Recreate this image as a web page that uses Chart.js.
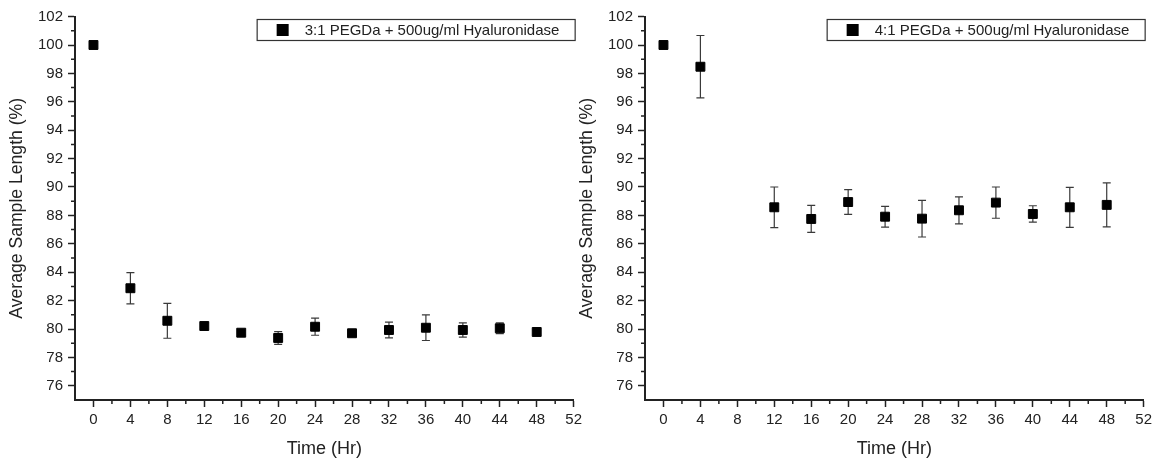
<!DOCTYPE html>
<html><head><meta charset="utf-8">
<script src="https://cdn.jsdelivr.net/npm/chart.js@4/dist/chart.umd.min.js"></script>
<style>
html,body{margin:0;padding:0;background:#fff;}
#wrap{position:relative;width:1161px;height:462px;overflow:hidden;background:#fff;}
canvas{position:absolute;top:0;}
#c1{left:0;}
#c2{left:570px;}
</style></head><body>
<div id="wrap"><canvas id="c1" width="586" height="462"></canvas><canvas id="c2" width="586" height="462"></canvas></div>
<script>
const timeHours = [0, 4, 8, 12, 16, 20, 24, 28, 32, 36, 40, 44, 48];
const xTickValues = [0, 4, 8, 12, 16, 20, 24, 28, 32, 36, 40, 44, 48, 52];
const yTickValues = [76, 78, 80, 82, 84, 86, 88, 90, 92, 94, 96, 98, 100, 102];
const minorXTicks = [2, 6, 10, 14, 18, 22, 26, 30, 34, 38, 42, 46, 50];
const minorYTicks = [77, 79, 81, 83, 85, 87, 89, 91, 93, 95, 97, 99, 101];

const labelLeft = '3:1 PEGDa + 500ug/ml Hyaluronidase';
const lengthLeft = [100, 82.87, 80.58, 80.21, 79.74, 79.37, 80.16, 79.70, 79.93, 80.09, 79.93, 80.05, 79.79];
const errorLeft = [0, 1.1, 1.23, 0.2, 0.15, 0.45, 0.6, 0.15, 0.56, 0.9, 0.5, 0.38, 0.15];

const labelRight = '4:1 PEGDa + 500ug/ml Hyaluronidase';
const lengthRight = [100, 98.47, null, 88.57, 87.75, 88.94, 87.91, 87.77, 88.36, 88.9, 88.1, 88.57, 88.74];
const errorRight = [0, 2.2, null, 1.43, 0.95, 0.87, 0.73, 1.29, 0.95, 1.1, 0.58, 1.41, 1.55];

const FONT = "'Liberation Sans', Arial, sans-serif";
const INK = '#222';

const errorBarPlugin = {
  id: 'errorBars',
  beforeDatasetsDraw(chart) {
    const ctx = chart.ctx;
    const xs = chart.scales.x, ys = chart.scales.y;
    chart.data.datasets.forEach(ds => {
      const errs = ds.errors || [];
      ds.data.forEach((p, i) => {
        const e = errs[i];
        if (p.y == null || e == null || e === 0) return;
        const x = xs.getPixelForValue(p.x);
        const yTop = ys.getPixelForValue(p.y + e);
        const yBot = ys.getPixelForValue(p.y - e);
        ctx.save();
        ctx.strokeStyle = '#3a3a3a';
        ctx.lineWidth = 1.2;
        ctx.beginPath();
        ctx.moveTo(x, yTop); ctx.lineTo(x, yBot);
        ctx.moveTo(x - 4, yTop); ctx.lineTo(x + 4, yTop);
        ctx.moveTo(x - 4, yBot); ctx.lineTo(x + 4, yBot);
        ctx.stroke();
        ctx.restore();
      });
    });
  }
};

const minorTickPlugin = {
  id: 'minorTicks',
  afterDraw(chart) {
    const ctx = chart.ctx;
    const xs = chart.scales.x, ys = chart.scales.y;
    const ca = chart.chartArea;
    ctx.save();
    ctx.strokeStyle = INK;
    ctx.lineWidth = 1.5;
    ctx.beginPath();
    minorXTicks.forEach(v => {
      const x = xs.getPixelForValue(v);
      ctx.moveTo(x, ca.bottom); ctx.lineTo(x, ca.bottom + 4);
    });
    minorYTicks.forEach(v => {
      const y = ys.getPixelForValue(v);
      ctx.moveTo(ca.left, y); ctx.lineTo(ca.left - 4, y);
    });
    ctx.stroke();
    ctx.restore();
  }
};

const boxLegendPlugin = {
  id: 'boxLegend',
  afterDraw(chart) {
    const ctx = chart.ctx;
    const ca = chart.chartArea;
    const ds = chart.data.datasets[0];
    const w = 318, h = 21;
    const right = ca.right + 1;
    const left = right - w;
    const top = 19;
    ctx.save();
    ctx.fillStyle = '#fff';
    ctx.fillRect(left, top, w, h);
    ctx.strokeStyle = '#333';
    ctx.lineWidth = 1.2;
    ctx.strokeRect(left + 0.5, top + 0.5, w, h);
    ctx.fillStyle = '#000';
    ctx.fillRect(left + 20, top + 5, 12, 12);
    ctx.fillStyle = INK;
    ctx.font = '15px ' + FONT;
    ctx.textBaseline = 'middle';
    ctx.textAlign = 'left';
    ctx.fillText(ds.label, left + 48, top + h / 2 + 1);
    ctx.restore();
  }
};

function makeChart(canvasId, label, values, errors) {
  const data = timeHours.map((t, i) => ({ x: t, y: values[i] }));
  return new Chart(document.getElementById(canvasId), {
    type: 'scatter',
    data: {
      datasets: [{
        label: label,
        data: data,
        errors: errors,
        showLine: false,
        pointStyle: 'rect',
        pointRadius: 6.3,
        pointHoverRadius: 6.3,
        backgroundColor: '#000',
        borderColor: '#000',
        borderWidth: 1
      }]
    },
    options: {
      responsive: false,
      animation: false,
      devicePixelRatio: 1,
      layout: { padding: { top: 16.6, right: 8, left: 0, bottom: 0 } },
      plugins: { legend: { display: false }, tooltip: { enabled: false } },
      scales: {
        x: {
          type: 'linear', min: -2, max: 52,
          afterBuildTicks: s => { s.ticks = xTickValues.map(v => ({ value: v })); },
          afterFit: s => { s.height = 62; },
          grid: { drawOnChartArea: false, drawTicks: true, tickLength: 7, tickWidth: 1.5, tickColor: INK },
          border: { display: true, color: INK, width: 2 },
          ticks: { color: INK, font: { family: FONT, size: 15 }, padding: 4, maxRotation: 0, autoSkip: false },
          title: { display: true, text: 'Time (Hr)', color: INK, font: { family: FONT, size: 18 }, padding: { top: 0, bottom: 2 } }
        },
        y: {
          type: 'linear', min: 75, max: 102,
          afterBuildTicks: s => { s.ticks = yTickValues.map(v => ({ value: v })); },
          afterFit: s => { s.width = 75; },
          grid: { drawOnChartArea: false, drawTicks: true, tickLength: 7, tickWidth: 1.5, tickColor: INK },
          border: { display: true, color: INK, width: 2 },
          ticks: { color: INK, font: { family: FONT, size: 15 }, padding: 5, autoSkip: false },
          title: { display: true, text: 'Average Sample Length (%)', color: INK, font: { family: FONT, size: 17.6 }, padding: { top: 7, bottom: 0 } }
        }
      }
    },
    plugins: [errorBarPlugin, minorTickPlugin, boxLegendPlugin]
  });
}

makeChart('c1', labelLeft, lengthLeft, errorLeft);
makeChart('c2', labelRight, lengthRight, errorRight);
</script>
</body></html>
